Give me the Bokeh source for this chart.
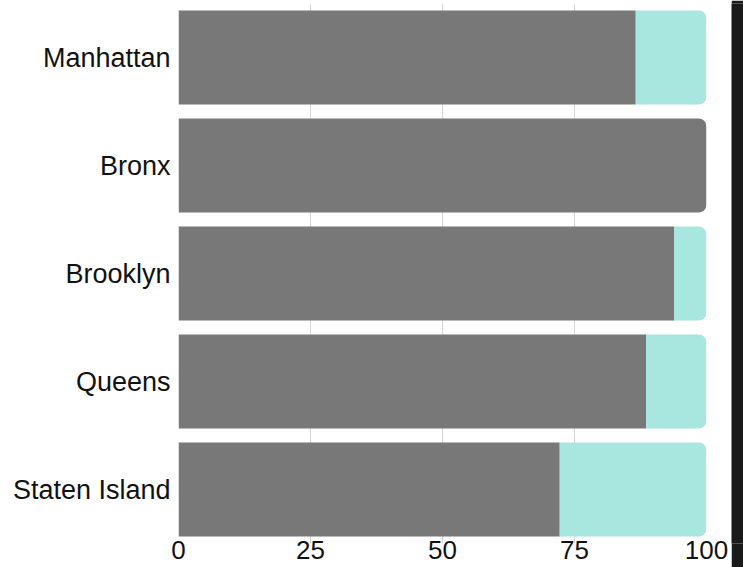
from bokeh.plotting import figure
from bokeh.models import Range1d, FixedTicker, ColumnDataSource, CDSView, BooleanFilter
from bokeh.layouts import row
from bokeh.embed import file_html
from bokeh.resources import INLINE

boroughs = ["Manhattan", "Bronx", "Brooklyn", "Queens", "Staten Island"]
gray_vals = [86.6, 100.0, 93.9, 88.6, 72.2]
teal_vals = [13.4, 0.0, 6.1, 11.4, 27.8]
x_ticks = [0, 25, 50, 75, 100]

n = len(boroughs)
ys = [n - 1 - i for i in range(n)]
totals = [g + t for g, t in zip(gray_vals, teal_vals)]

src = ColumnDataSource(dict(y=ys, gray=gray_vals, teal=teal_vals, total=totals,
                            name=boroughs))

GRAY = "#787878"
TEAL = "#a8e6e0"
DARK = "#1a1a1a"

p = figure(width=731, height=567, output_backend="svg", toolbar_location=None,
           x_range=Range1d(0, 100), y_range=Range1d(-0.5, n - 0.5),
           min_border_left=178, min_border_right=25, min_border_top=3,
           min_border_bottom=24)
p.outline_line_color = None
p.background_fill_color = "white"

full_rows = [t <= 0 for t in teal_vals]
part_rows = [not f for f in full_rows]

p.hbar(y="y", left=0, right="gray", height=0.87, source=src,
       view=CDSView(filter=BooleanFilter(part_rows)),
       fill_color=GRAY, line_color=None)
p.hbar(y="y", left=0, right="gray", height=0.87, source=src,
       view=CDSView(filter=BooleanFilter(full_rows)),
       fill_color=GRAY, line_color=None, border_radius=(0, 8, 8, 0))
p.hbar(y="y", left="gray", right="total", height=0.87, source=src,
       view=CDSView(filter=BooleanFilter(part_rows)),
       fill_color=TEAL, line_color=None, border_radius=(0, 8, 8, 0))

p.xaxis.ticker = FixedTicker(ticks=x_ticks)
p.yaxis.ticker = FixedTicker(ticks=ys)
p.yaxis.major_label_overrides = {y: b for y, b in zip(ys, boroughs)}

for ax in (p.xaxis[0], p.yaxis[0]):
    ax.axis_line_color = None
    ax.major_tick_line_color = None
    ax.minor_tick_line_color = None
    ax.major_tick_out = 0
    ax.major_tick_in = 0
    ax.major_label_text_font = "Liberation Sans"
    ax.major_label_text_color = "#111111"
p.yaxis.major_label_text_font_size = "27px"
p.xaxis.major_label_text_font_size = "26px"
p.xaxis.major_label_standoff = -3
p.yaxis.major_label_standoff = 8

p.xgrid.ticker = FixedTicker(ticks=x_ticks)
p.xgrid.grid_line_color = "#d4d4d4"
p.ygrid.grid_line_color = None

strip = figure(width=12, height=567, output_backend="svg", toolbar_location=None,
               x_axis_type=None, y_axis_type=None, min_border=0,
               x_range=Range1d(0, 1), y_range=Range1d(0, 1))
strip.outline_line_color = None
strip.background_fill_color = DARK
strip.border_fill_color = DARK
strip.xgrid.visible = False
strip.ygrid.visible = False

layout = row(p, strip, spacing=0)
open("out.html", "w").write(file_html(layout, INLINE))
